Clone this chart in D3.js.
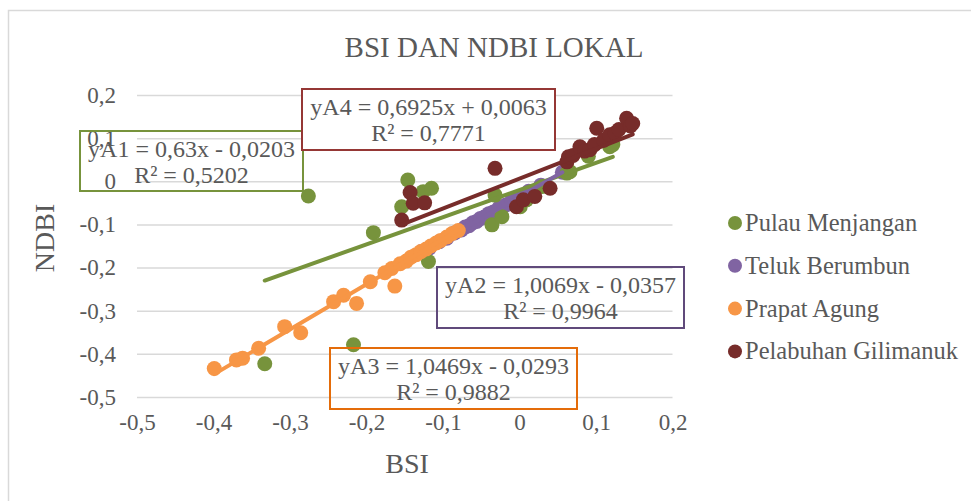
<!DOCTYPE html>
<html>
<head>
<meta charset="utf-8">
<script src="https://cdn.jsdelivr.net/npm/d3@7/dist/d3.min.js"></script>
<style>
  html, body { margin: 0; padding: 0; background: #ffffff; }
  svg { display: block; }
  text { font-family: "Liberation Serif", "Times New Roman", serif; fill: #595959; }
</style>
</head>
<body>
<svg id="chart" width="971" height="501"></svg>
<script>
// ---- data: BSI (x) vs NDBI (y) per location ----
const seriesNames = ["Pulau Menjangan", "Teluk Berumbun", "Prapat Agung", "Pelabuhan Gilimanuk"];
const seriesColors = ["#77933C", "#8064A2", "#F79646", "#772C2A"];
const boxColors = ["#77933C", "#604A7B", "#E46C0A", "#953735"];

const menjangan = [
  [-0.333, -0.423], [-0.276, -0.034], [-0.217, -0.379], [-0.191, -0.119],
  [-0.154, -0.059], [-0.146, 0.003], [-0.126, -0.024], [-0.119, -0.186],
  [-0.115, -0.016], [-0.036, -0.101], [-0.032, -0.032], [-0.023, -0.082],
  [0.001, -0.059], [0.009, -0.043], [0.030, -0.012], [0.062, 0.019],
  [0.066, 0.022], [0.090, 0.058], [0.118, 0.080], [0.122, 0.085]
];
const berumbun = [
  [-0.128, -0.163], [-0.118, -0.155], [-0.105, -0.140], [-0.095, -0.132],
  [-0.085, -0.120], [-0.076, -0.113], [-0.071, -0.106], [-0.066, -0.103],
  [-0.061, -0.096], [-0.056, -0.093], [-0.051, -0.086], [-0.046, -0.083],
  [-0.040, -0.075], [-0.034, -0.071], [-0.027, -0.062], [-0.018, -0.055],
  [-0.010, -0.045], [0.000, -0.037], [0.012, -0.023], [0.028, -0.009],
  [0.056, 0.021]
];
const prapat = [
  [-0.399, -0.434], [-0.370, -0.414], [-0.362, -0.410], [-0.341, -0.387],
  [-0.307, -0.337], [-0.286, -0.351], [-0.243, -0.279], [-0.230, -0.264],
  [-0.213, -0.283], [-0.195, -0.233], [-0.176, -0.212], [-0.167, -0.202],
  [-0.163, -0.243], [-0.156, -0.191], [-0.148, -0.185], [-0.142, -0.176],
  [-0.135, -0.170], [-0.129, -0.163], [-0.122, -0.157], [-0.116, -0.150],
  [-0.109, -0.143], [-0.103, -0.137], [-0.095, -0.129], [-0.088, -0.121],
  [-0.080, -0.114]
];
const gilimanuk = [
  [-0.154, -0.090], [-0.143, -0.026], [-0.139, -0.051], [-0.124, -0.050],
  [-0.032, 0.030], [-0.004, -0.059], [0.005, -0.043], [0.020, -0.035],
  [0.040, -0.016], [0.062, 0.045], [0.064, 0.057], [0.070, 0.060],
  [0.079, 0.080], [0.085, 0.070], [0.092, 0.073], [0.098, 0.085],
  [0.101, 0.123], [0.110, 0.095], [0.118, 0.108], [0.125, 0.112],
  [0.130, 0.120], [0.140, 0.146], [0.145, 0.128], [0.148, 0.134]
];
const seriesData = [menjangan, berumbun, prapat, gilimanuk];

// linear trendlines: slope, intercept, R²
const trendSlopes = [0.63, 1.0069, 1.0469, 0.6925];
const trendIntercepts = [-0.0203, -0.0357, -0.0293, 0.0063];
const trendR2 = [0.5202, 0.9964, 0.9882, 0.7771];
const trendNames = ["yA1", "yA2", "yA3", "yA4"];

const xTicks = [-0.5, -0.4, -0.3, -0.2, -0.1, 0, 0.1, 0.2];
const yTicks = [-0.5, -0.4, -0.3, -0.2, -0.1, 0, 0.1, 0.2];
const chartTitle = "BSI DAN NDBI LOKAL";
const xTitle = "BSI";
const yTitle = "NDBI";

// ---- layout ----
const svg = d3.select("#chart");
const x = d3.scaleLinear().domain([-0.5, 0.2]).range([137, 672.5]);
const y = d3.scaleLinear().domain([-0.5, 0.2]).range([397, 95]);

const fmtNum = (v, digits) => {
  if (Math.abs(v) < 1e-9) return "0";
  return (v < 0 ? "-" : "") + Math.abs(v).toFixed(digits).replace(".", ",");
};
const fmtTick = v => fmtNum(v, 1);

// outer chart frame
svg.append("rect")
  .attr("x", 8.5).attr("y", 10.5).attr("width", 990).attr("height", 520)
  .attr("fill", "#ffffff").attr("stroke", "#d9d9d9").attr("stroke-width", 1.5);

// horizontal gridlines + y labels
const yAxis = d3.axisLeft(y).tickValues(yTicks).tickFormat(fmtTick)
  .tickSize(-(x.range()[1] - x.range()[0])).tickPadding(21);
const gy = svg.append("g").attr("transform", `translate(${x.range()[0]},0)`).call(yAxis);
gy.select(".domain").remove();
gy.selectAll(".tick line").attr("stroke", "#d9d9d9").attr("stroke-width", 1.5);
gy.selectAll(".tick text").style("font-size", "23px").attr("fill", "#595959")
  .attr("font-family", "Liberation Serif, Times New Roman, serif");

// x labels
const xAxis = d3.axisBottom(x).tickValues(xTicks).tickFormat(fmtTick).tickSize(0).tickPadding(17);
const gx = svg.append("g").attr("transform", `translate(0,${y.range()[0]})`).call(xAxis);
gx.select(".domain").remove();
gx.selectAll(".tick text").style("font-size", "23px").attr("fill", "#595959")
  .attr("font-family", "Liberation Serif, Times New Roman, serif");

// titles
svg.append("text").attr("x", 494).attr("y", 57).attr("text-anchor", "middle")
  .style("font-size", "29px").text(chartTitle);
svg.append("text").attr("x", 407).attr("y", 473).attr("text-anchor", "middle")
  .style("font-size", "28px").text(xTitle);
svg.append("text").attr("transform", "translate(54,238) rotate(-90)").attr("text-anchor", "middle")
  .style("font-size", "28px").text(yTitle);

// trendline label boxes
const labelBoxes = [
  { x0: 80, y0: 131, x1: 303, y1: 191, fill: "none" },
  { x0: 437, y0: 267, x1: 684, y1: 328, fill: "none" },
  { x0: 330, y0: 348, x1: 577, y1: 409, fill: "none" },
  { x0: 302, y0: 89, x1: 555, y1: 150, fill: "#ffffff" }
];

// drawing order of layers: [series index, "pts" | "trend"]
const layers = [
  [1, "pts"], [0, "pts"], [0, "trend"], [1, "trend"],
  [2, "pts"], [2, "trend"], [3, "pts"], [3, "trend"]
];
const plot = svg.append("g");
layers.forEach(([i, kind]) => {
  const pts = seriesData[i];
  if (kind === "pts") {
    plot.append("g").selectAll("circle").data(pts).join("circle")
      .attr("cx", d => x(d[0])).attr("cy", d => y(d[1])).attr("r", 7.5)
      .attr("fill", seriesColors[i]);
  } else {
    const [xmin, xmax] = d3.extent(pts, d => d[0]);
    const f = v => trendSlopes[i] * v + trendIntercepts[i];
    plot.append("line")
      .attr("x1", x(xmin)).attr("y1", y(f(xmin)))
      .attr("x2", x(xmax)).attr("y2", y(f(xmax)))
      .attr("stroke", seriesColors[i]).attr("stroke-width", 4).attr("stroke-linecap", "round");
  }
});

// equation labels
labelBoxes.forEach((b, i) => {
  const g = svg.append("g");
  g.append("rect").attr("x", b.x0).attr("y", b.y0)
    .attr("width", b.x1 - b.x0).attr("height", b.y1 - b.y0)
    .attr("fill", b.fill).attr("stroke", boxColors[i]).attr("stroke-width", 2);
  const cx = (b.x0 + b.x1) / 2;
  const m = trendSlopes[i], c = trendIntercepts[i];
  const eq = `${trendNames[i]} = ${fmtNum(m, i === 0 ? 2 : 4)}x ${c < 0 ? "-" : "+"} ${fmtNum(Math.abs(c), 4)}`;
  g.append("text").attr("x", cx).attr("y", b.y0 + 26).attr("text-anchor", "middle")
    .style("font-size", "24px").text(eq);
  g.append("text").attr("x", cx).attr("y", b.y0 + 52).attr("text-anchor", "middle")
    .style("font-size", "24px").text(`R² = ${fmtNum(trendR2[i], 4)}`);
});

// legend
const legend = svg.append("g");
seriesNames.forEach((name, i) => {
  const ly = 223 + i * 42.8;
  legend.append("circle").attr("cx", 735).attr("cy", ly).attr("r", 7).attr("fill", seriesColors[i]);
  legend.append("text").attr("x", 745).attr("y", ly + 8).style("font-size", "24.5px").text(name);
});
</script>
</body>
</html>
